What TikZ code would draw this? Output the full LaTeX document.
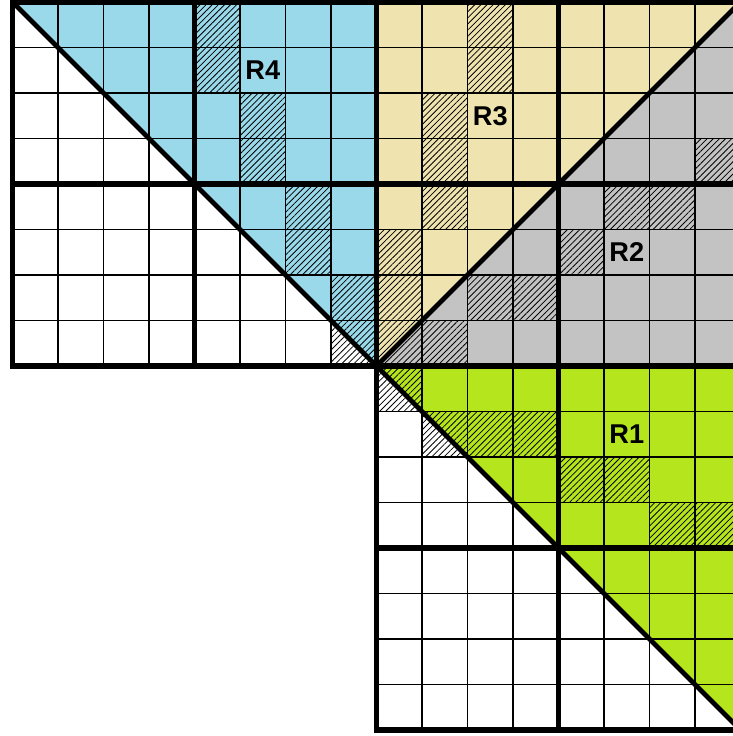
\documentclass[tikz,border=0pt]{standalone}
\usepackage{fontspec}
\setsansfont{Liberation Sans}
\usetikzlibrary{patterns.meta}

\definecolor{regblue}{HTML}{99D9EA}
\definecolor{regtan}{HTML}{EFE4B0}
\definecolor{reggray}{HTML}{C3C3C3}
\definecolor{reggreen}{HTML}{B5E61D}

\begin{document}
\begin{tikzpicture}[x=1cm, y=-1cm,
    thinline/.style={line width=1.2pt},
    thickline/.style={line width=3.4pt, line cap=rect},
    diagline/.style={line width=3pt},
    hatch/.style={pattern={Lines[angle=45, distance=2.7pt, line width=0.5pt]}},
    reglabel/.style={font=\sffamily\bfseries\fontsize{17}{20}\selectfont}]
  % 画像の枠 (右端と下端は切れている)
  \useasboundingbox (-0.2747,-0.044) rectangle (15.835,16.132);
  \fill[white] (-0.2747,-0.044) rectangle (15.835,16.132);
  \clip (-0.2747,-0.044) rectangle (15.835,16.132);

  % 領域の塗り分け
  \fill[regblue] (0,0) -- (8,0) -- (8,8) -- cycle;
  \fill[regtan] (8,0) -- (16,0) -- (8,8) -- cycle;
  \fill[reggray] (16,0) -- (16,8) -- (8,8) -- cycle;
  \fill[reggreen] (8,8) -- (16,8) -- (16,16) -- cycle;

  % 斜線のセル (列/行)
  \foreach \c/\r in {4/0,4/1,5/2,5/3,6/4,6/5,7/6,7/7,
                     10/0,10/1,9/2,9/3,9/4,8/5,8/6,8/7,
                     9/7,10/6,11/6,12/5,13/4,14/4,15/3,
                     8/8,9/9,10/9,11/9,12/10,13/10,14/11,15/11}
    \fill[hatch] (\c,\r) rectangle ++(1,1);

  % 細い格子線
  \foreach \k in {0,...,8} {
    \draw[thinline] (\k,0) -- (\k,8);
    \draw[thinline] (0,\k) -- (8,\k);
  }
  \foreach \k in {8,...,16}
    \draw[thinline] (\k,0) -- (\k,16);
  \foreach \k in {0,...,16}
    \draw[thinline] (8,\k) -- (16,\k);

  % 太線 (4x4 ブロック)
  \foreach \k in {0,4,8} {
    \draw[thickline] (\k,0) -- (\k,8);
    \draw[thickline] (0,\k) -- (8,\k);
  }
  \foreach \k in {8,12,16}
    \draw[thickline] (\k,0) -- (\k,16);
  \foreach \k in {0,4,8,12,16}
    \draw[thickline] (8,\k) -- (16,\k);

  % 対角線
  \coordinate (O) at (8,8);
  \draw[diagline] (0,0) -- (O);
  \draw[diagline] (O) -- (16,0);
  \draw[diagline] (O) -- (16,16);

  % ラベル
  \node[reglabel] (r4) at (5.5,1.5) {R4};
  \node[reglabel] (r3) at (10.5,2.5) {R3};
  \node[reglabel] (r2) at (13.5,5.5) {R2};
  \node[reglabel] (r1) at (13.5,9.5) {R1};

\end{tikzpicture}
\end{document}
